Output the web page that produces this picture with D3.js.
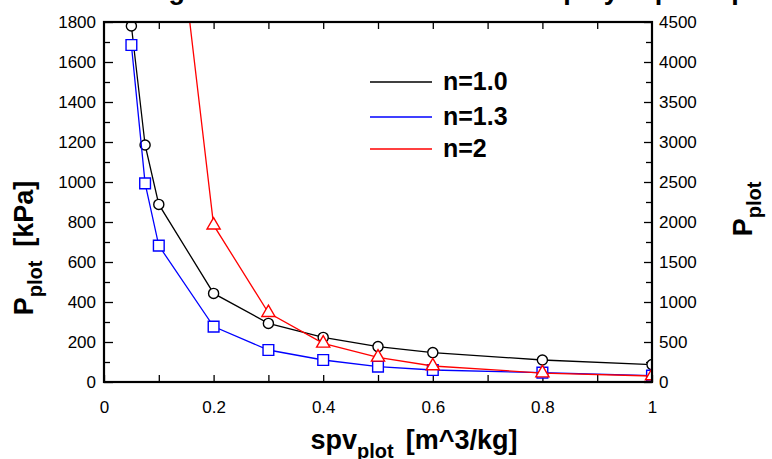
<!DOCTYPE html>
<html>
<head>
<meta charset="utf-8">
<script src="https://cdn.jsdelivr.net/npm/d3@7"></script>
<style>
  body { margin: 0; background: #fff; }
  text { font-family: "Liberation Sans", Arial, sans-serif; }
</style>
</head>
<body>
<div id="chart"></div>
<script>
// data
var spv = [0.05, 0.075, 0.1, 0.2, 0.3, 0.4, 0.5, 0.6, 0.8, 1.0];
var pN10 = [1780, 1185, 888, 443, 293, 223, 177, 147, 110, 87];      // left axis
var pN13 = [1685, 993, 682, 277, 160, 110, 77, 60, 47, 32];          // left axis
var pN20 = [31000, 13900, 7800, 1960, 866, 484, 309, 200, 112, 75];  // right axis
var seriesNames = ["n=1.0", "n=1.3", "n=2"];
var seriesColors = ["#000000", "#0000ff", "#ff0000"];
var xTickLabels = [0, 0.2, 0.4, 0.6, 0.8, 1];

// set the dimensions of the graph
var width = 772, height = 459;
var plotLeft = 104, plotRight = 652, plotTop = 22, plotBottom = 382;

// set the ranges
var x = d3.scaleLinear().domain([0, 1]).range([plotLeft, plotRight]);
var y0 = d3.scaleLinear().domain([0, 1800]).range([plotBottom, plotTop]);
var y1 = d3.scaleLinear().domain([0, 4500]).range([plotBottom, plotTop]);

var svg = d3.select("#chart").append("svg")
    .attr("width", width)
    .attr("height", height);

// title, mostly above the top edge
svg.append("text")
    .attr("x", 80)
    .attr("y", -1)
    .style("font-size", "27px")
    .style("font-weight", "bold")
    .text("P-v diagram for an isothermal versus polytropic expansion");

svg.append("clipPath").attr("id", "clip")
  .append("rect")
    .attr("x", plotLeft).attr("y", plotTop)
    .attr("width", plotRight - plotLeft).attr("height", plotBottom - plotTop);

function styleAxis(g) {
    g.select(".domain").remove();
    g.attr("font-size", null).attr("font-family", null);
    g.selectAll("line").attr("stroke", "#000").attr("stroke-width", 1.3);
    g.selectAll("text").style("font-size", "17px").attr("fill", "#000");
}

// bottom axis: ticks every 0.1, labels every 0.2
svg.append("g")
    .attr("transform", "translate(0," + plotBottom + ")")
    .call(d3.axisBottom(x).tickValues(d3.range(0, 11).map(function(i) { return i / 10; }))
        .tickSize(-7).tickFormat(""))
    .call(styleAxis);
svg.append("g")
    .attr("transform", "translate(0," + plotBottom + ")")
    .call(d3.axisBottom(x).tickValues(xTickLabels).tickSize(0).tickPadding(19)
        .tickFormat(d3.format("~g")))
    .call(styleAxis);
// top ticks
svg.append("g")
    .attr("transform", "translate(0," + plotTop + ")")
    .call(d3.axisTop(x).tickValues(d3.range(1, 10).map(function(i) { return i / 10; }))
        .tickSize(-7).tickFormat(""))
    .call(styleAxis);

// left axis
svg.append("g")
    .attr("transform", "translate(" + plotLeft + ",0)")
    .call(d3.axisLeft(y0).tickValues(d3.range(100, 1800, 200)).tickSize(-6).tickFormat(""))
    .call(styleAxis);
svg.append("g")
    .attr("transform", "translate(" + plotLeft + ",0)")
    .call(d3.axisLeft(y0).tickValues(d3.range(0, 1801, 200)).tickSize(-9).tickPadding(8)
        .tickFormat(d3.format("d")))
    .call(styleAxis);

// right axis
svg.append("g")
    .attr("transform", "translate(" + plotRight + ",0)")
    .call(d3.axisRight(y1).tickValues(d3.range(250, 4500, 500)).tickSize(-6).tickFormat(""))
    .call(styleAxis);
svg.append("g")
    .attr("transform", "translate(" + plotRight + ",0)")
    .call(d3.axisRight(y1).tickValues(d3.range(0, 4501, 500)).tickSize(-8).tickPadding(7)
        .tickFormat(d3.format("d")))
    .call(styleAxis);

// the series
var series = [
    {name: seriesNames[0], values: pN10, y: y0, color: seriesColors[0], symbol: d3.symbolCircle, size: 80},
    {name: seriesNames[1], values: pN13, y: y0, color: seriesColors[1], symbol: d3.symbolSquare, size: 115},
    {name: seriesNames[2], values: pN20, y: y1, color: seriesColors[2], symbol: d3.symbolTriangle, size: 75}
];

var plot = svg.append("g").attr("clip-path", "url(#clip)");

series.forEach(function(s) {
    var pts = spv.map(function(v, i) { return [v, s.values[i]]; });
    var line = d3.line()
        .x(function(d) { return x(d[0]); })
        .y(function(d) { return s.y(d[1]); });
    plot.append("path")
        .datum(pts)
        .attr("fill", "none")
        .attr("stroke", s.color)
        .attr("stroke-width", 1.3)
        .attr("d", line);
    plot.selectAll(null)
        .data(pts)
        .enter().append("path")
        .attr("transform", function(d) { return "translate(" + x(d[0]) + "," + s.y(d[1]) + ")"; })
        .attr("d", d3.symbol().type(s.symbol).size(s.size))
        .attr("fill", "#fff")
        .attr("stroke", s.color)
        .attr("stroke-width", 1.4);
});

// frame
svg.append("rect")
    .attr("x", plotLeft).attr("y", plotTop)
    .attr("width", plotRight - plotLeft).attr("height", plotBottom - plotTop)
    .attr("fill", "none")
    .attr("stroke", "#000")
    .attr("stroke-width", 2.2);

// legend
var legendY = [82, 117, 149];
var legend = svg.append("g");
series.forEach(function(s, i) {
    legend.append("path")
        .attr("d", "M370," + legendY[i] + "H432")
        .style("stroke", s.color)
        .style("stroke-width", "1.4px")
        .style("fill", "none");
    legend.append("text")
        .attr("x", 443).attr("y", legendY[i] + 8)
        .style("font-size", "25px")
        .style("font-weight", "bold")
        .text(s.name);
});

// axis titles with subscripts
var xt = svg.append("text")
    .attr("x", 414).attr("y", 449)
    .attr("text-anchor", "middle")
    .style("font-weight", "bold")
    .style("font-size", "27px");
xt.append("tspan").text("spv");
xt.append("tspan").attr("dy", 9).style("font-size", "20px").text("plot");
xt.append("tspan").attr("dy", -9).attr("dx", 12).text("[m^3/kg]");

var yt = svg.append("text")
    .attr("transform", "translate(33,248) rotate(-90)")
    .attr("text-anchor", "middle")
    .style("font-weight", "bold")
    .style("font-size", "27px");
yt.append("tspan").text("P");
yt.append("tspan").attr("dy", 9).style("font-size", "20px").text("plot");
yt.append("tspan").attr("dy", -9).attr("dx", 14).text("[kPa]");

var yt2 = svg.append("text")
    .attr("transform", "translate(752,209) rotate(-90)")
    .attr("text-anchor", "middle")
    .style("font-weight", "bold")
    .style("font-size", "27px");
yt2.append("tspan").text("P");
yt2.append("tspan").attr("dy", 9).style("font-size", "20px").text("plot");
</script>
</body>
</html>
